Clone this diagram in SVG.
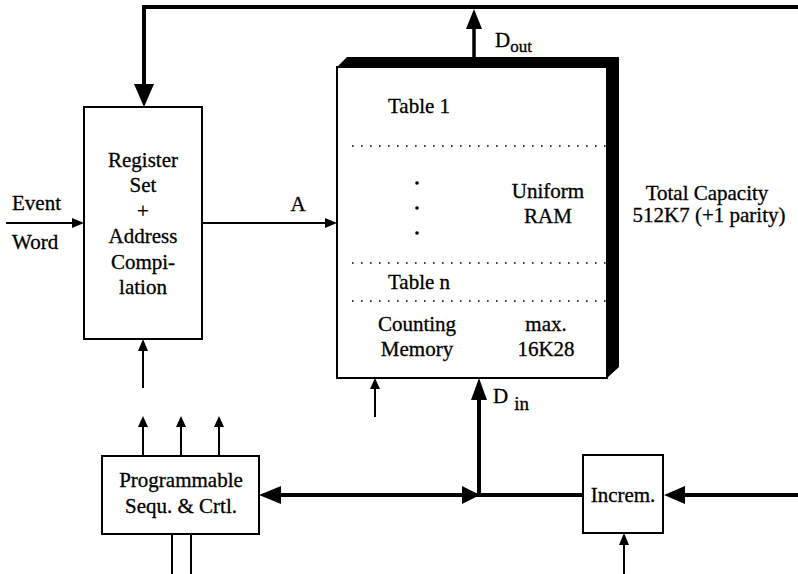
<svg xmlns="http://www.w3.org/2000/svg" width="798" height="574" viewBox="0 0 798 574">
<style>
  text { font-family: "Liberation Serif", "Times New Roman", serif; font-size: 21px; fill: #000; stroke: #000; stroke-width: 0.3; }
  .mid { text-anchor: middle; }
  .box { fill: #fff; stroke: #000; stroke-width: 2; }
  .bus { fill: none; stroke: #000; stroke-width: 4; }
  .thin { fill: none; stroke: #000; stroke-width: 2; }
  .dot { fill: none; stroke: #000; stroke-width: 1.6; stroke-dasharray: 1.6 7.4; }
  .head { fill: #000; stroke: none; }
</style>
<rect width="798" height="574" fill="#fff"/>

<g id="connectors">
  <!-- top bus to register set -->
  <polyline class="bus" points="798,7 144,7 144,86"/>
  <polygon class="head" points="134,84 154,84 144,107"/>
  <!-- Dout -->
  <line class="bus" x1="474" y1="57" x2="474" y2="26" style="stroke-width:3.5"/>
  <polygon class="head" points="466,29 482,29 474,9"/>
  <!-- Event word input -->
  <line class="thin" x1="6" y1="223" x2="76" y2="223"/>
  <polygon class="head" points="72,218 72,228 84,223"/>
  <!-- A -->
  <line class="thin" x1="202" y1="223" x2="328" y2="223"/>
  <polygon class="head" points="325,218 325,228 337,223"/>
  <!-- register bottom input -->
  <line class="thin" x1="143" y1="388" x2="143" y2="348"/>
  <polygon class="head" points="138,351 148,351 143,339"/>
  <!-- memory bottom input -->
  <line class="thin" x1="375" y1="417" x2="375" y2="386"/>
  <polygon class="head" points="370,389 380,389 375,378"/>
  <!-- Din -->
  <line class="bus" x1="479" y1="497" x2="479" y2="396"/>
  <polygon class="head" points="471,400 487,400 479,378"/>
  <!-- bottom bus -->
  <line class="bus" x1="276" y1="495" x2="583" y2="495"/>
  <polygon class="head" points="281,486 281,504 259,495"/>
  <polygon class="head" points="462,486 462,504 480,495"/>
  <!-- right bus into Increm -->
  <line class="bus" x1="798" y1="495" x2="680" y2="495"/>
  <polygon class="head" points="685,486 685,504 664,495"/>
  <!-- Prog outputs -->
  <line class="thin" x1="143" y1="456" x2="143" y2="424"/>
  <polygon class="head" points="138,427 148,427 143,416"/>
  <line class="thin" x1="181" y1="456" x2="181" y2="424"/>
  <polygon class="head" points="176,427 186,427 181,416"/>
  <line class="thin" x1="219" y1="456" x2="219" y2="424"/>
  <polygon class="head" points="214,427 224,427 219,416"/>
  <!-- Prog inputs below -->
  <line class="thin" x1="172" y1="534" x2="172" y2="574"/>
  <line class="thin" x1="191" y1="534" x2="191" y2="574"/>
  <!-- Increm bottom input -->
  <line class="thin" x1="624" y1="574" x2="624" y2="542"/>
  <polygon class="head" points="619,545 629,545 624,533"/>
</g>

<g id="register-set">
  <rect class="box" x="84" y="107" width="118" height="232"/>
  <text class="mid" x="143" y="167">Register</text>
  <text class="mid" x="143" y="192">Set</text>
  <text class="mid" x="143" y="218">+</text>
  <text class="mid" x="143" y="243">Address</text>
  <text class="mid" x="143" y="269">Compi-</text>
  <text class="mid" x="143" y="294">lation</text>
</g>

<g id="event-word">
  <text x="12" y="210">Event</text>
  <text x="12" y="249">Word</text>
</g>

<g id="label-a">
  <text class="mid" x="298" y="211">A</text>
</g>

<g id="uniform-ram">
  <path d="M337,67 L347,57 L619,57 L619,367 L607,378 L607,67 Z" fill="#000"/>
  <rect class="box" x="337" y="67" width="270" height="311"/>
  <line class="dot" x1="352" y1="146" x2="606" y2="146"/>
  <line class="dot" x1="352" y1="263" x2="606" y2="263"/>
  <line class="dot" x1="352" y1="301" x2="606" y2="301"/>
  <text x="388" y="113">Table 1</text>
  <circle cx="417" cy="183" r="1.8"/>
  <circle cx="417" cy="208" r="1.8"/>
  <circle cx="417" cy="233" r="1.8"/>
  <text class="mid" x="548" y="198">Uniform</text>
  <text class="mid" x="548" y="223">RAM</text>
  <text x="388" y="289">Table n</text>
  <text class="mid" x="417" y="331">Counting</text>
  <text class="mid" x="417" y="356">Memory</text>
  <text class="mid" x="546" y="331">max.</text>
  <text class="mid" x="546" y="356">16K28</text>
</g>

<g id="label-dout">
  <text x="495" y="47">D<tspan font-size="17" dy="5">out</tspan></text>
</g>

<g id="label-din">
  <text x="493" y="403">D<tspan font-size="19" dx="6" dy="7">in</tspan></text>
</g>

<g id="total-capacity">
  <text class="mid" x="707" y="200">Total Capacity</text>
  <text class="mid" x="709" y="222">512K7 (+1 parity)</text>
</g>

<g id="programmable">
  <rect class="box" x="102" y="456" width="157" height="78"/>
  <text class="mid" x="181" y="487">Programmable</text>
  <text class="mid" x="181" y="513">Sequ. &amp; Crtl.</text>
</g>

<g id="increm">
  <rect class="box" x="583" y="455" width="80" height="78"/>
  <text class="mid" x="623" y="502">Increm.</text>
</g>
</svg>
